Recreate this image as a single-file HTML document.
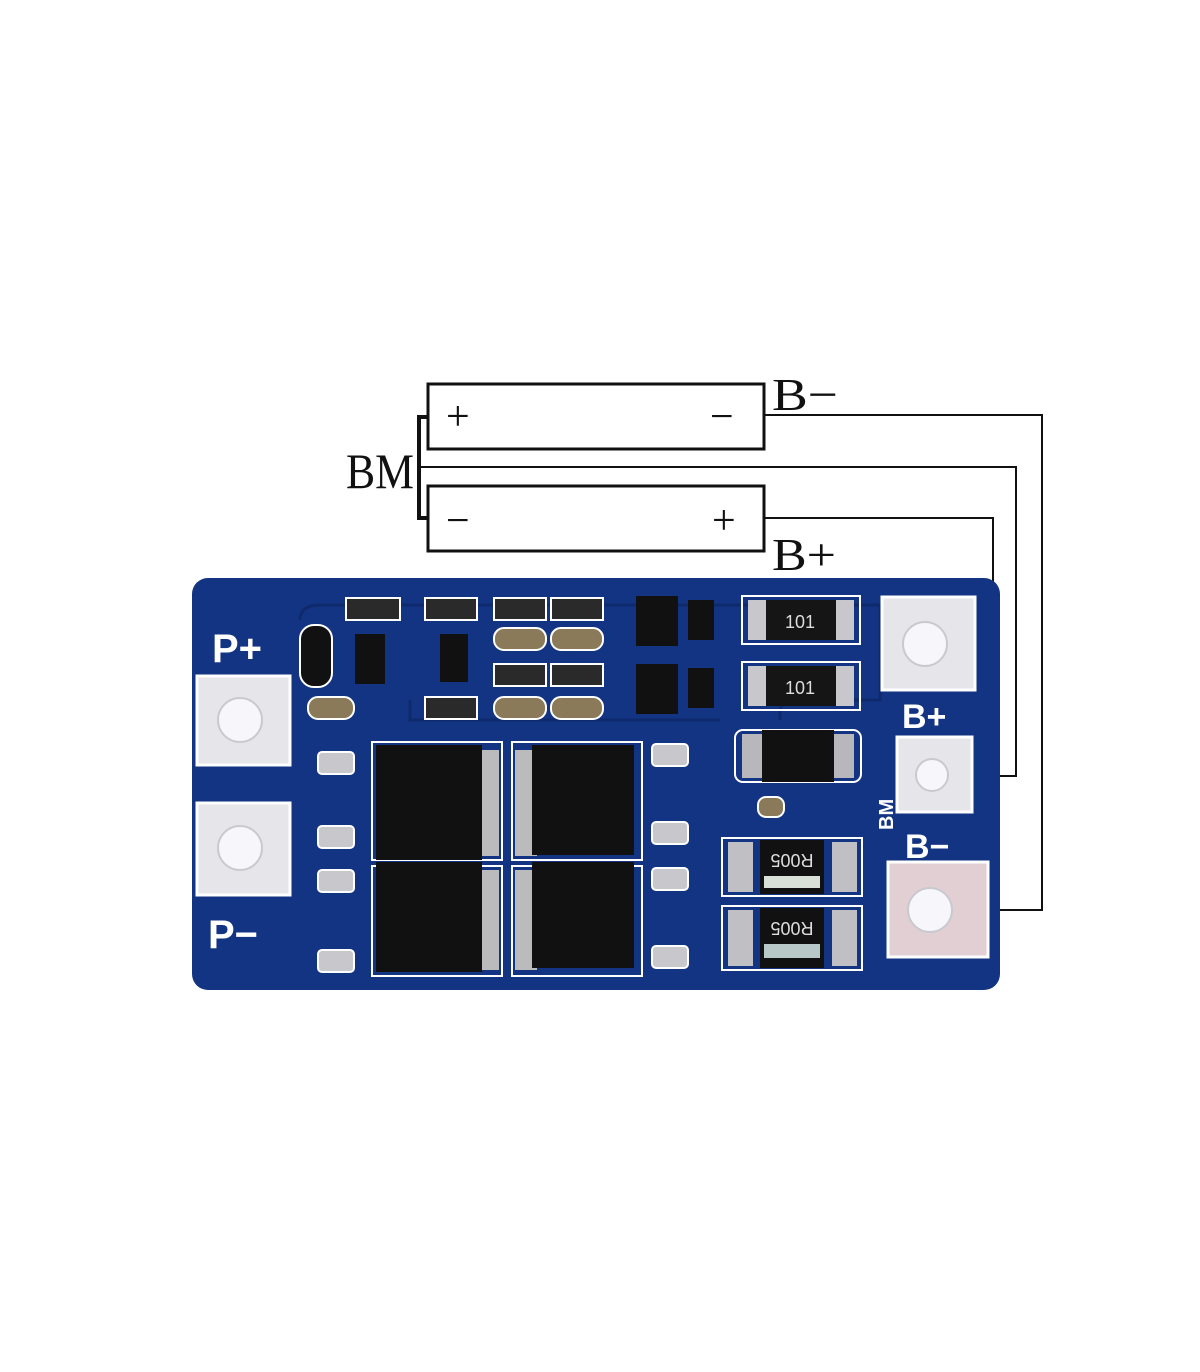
<!DOCTYPE html>
<html><head><meta charset="utf-8"><style>
html,body{margin:0;padding:0;background:#fff}
svg{display:block}
</style></head><body>
<svg width="1200" height="1372" viewBox="0 0 1200 1372" xmlns="http://www.w3.org/2000/svg" font-family="Liberation Serif, serif">
<rect width="1200" height="1372" fill="#fff"/>
<!-- batteries -->
<rect x="428" y="384" width="336" height="65" fill="#fff" stroke="#111" stroke-width="3"/>
<rect x="428" y="486" width="336" height="65" fill="#fff" stroke="#111" stroke-width="3"/>
<text x="446" y="430" font-size="42" fill="#111">+</text>
<text x="710" y="430" font-size="42" fill="#111">−</text>
<text x="446" y="534" font-size="42" fill="#111">−</text>
<text x="712" y="534" font-size="42" fill="#111">+</text>
<!-- BM bracket -->
<path d="M428 417 H419 V518 H428" fill="none" stroke="#111" stroke-width="4"/>
<path d="M420 467 H1016 V776 H975" fill="none" stroke="#111" stroke-width="2"/>
<path d="M765 415 H1042 V910 H985" fill="none" stroke="#111" stroke-width="2"/>
<path d="M765 518 H993 V640 H960" fill="none" stroke="#111" stroke-width="2"/>
<text x="346" y="488" font-size="50" fill="#111" textLength="68" lengthAdjust="spacingAndGlyphs">BM</text>
<text x="772" y="410" font-size="46" fill="#111" textLength="66" lengthAdjust="spacingAndGlyphs">B−</text>
<text x="772" y="570" font-size="46" fill="#111" textLength="64" lengthAdjust="spacingAndGlyphs">B+</text>
<!-- board -->
<rect x="192" y="578" width="808" height="412" rx="16" fill="#133483"/>
<path d="M300 620 Q300 605 320 605 H880 V700 H790 Q780 700 780 715 L780 720 M410 700 V720 H720" fill="none" stroke="#0f2a6c" stroke-width="3"/>
<g fill="#fff" font-family="Liberation Sans, sans-serif" font-weight="bold" font-size="40">
<text x="212" y="662">P+</text>
<text x="208" y="948">P−</text>
<text x="902" y="728" font-size="34">B+</text>
<text x="905" y="858" font-size="34">B−</text>
<text x="893" y="830" font-size="20" transform="rotate(-90 893 830)">BM</text>
</g>
<rect x="197" y="676" width="93" height="89" fill="#e6e6ea" stroke="#fff" stroke-width="3"/>
<circle cx="240" cy="720" r="22" fill="#f7f7fb" stroke="#c9c9d0" stroke-width="2"/>
<rect x="197" y="803" width="93" height="92" fill="#e6e6ea" stroke="#fff" stroke-width="3"/>
<circle cx="240" cy="848" r="22" fill="#f7f7fb" stroke="#c9c9d0" stroke-width="2"/>
<rect x="882" y="597" width="93" height="93" fill="#e6e6ea" stroke="#fff" stroke-width="3"/>
<circle cx="925" cy="644" r="22" fill="#f7f7fb" stroke="#c9c9d0" stroke-width="2"/>
<rect x="897" y="737" width="75" height="75" fill="#e6e6ea" stroke="#fff" stroke-width="3"/>
<circle cx="932" cy="775" r="16" fill="#f7f7fb" stroke="#c9c9d0" stroke-width="2"/>
<rect x="888" y="862" width="100" height="95" fill="#e2cfd3" stroke="#fff" stroke-width="3"/>
<circle cx="930" cy="910" r="22" fill="#f7f7fb" stroke="#c9c9d0" stroke-width="2"/>
<g>
<rect x="742" y="596" width="118" height="48" fill="none" stroke="#fff" stroke-width="2"/>
<rect x="748" y="600" width="106" height="40" fill="#c8c8cc"/>
<rect x="766" y="600" width="70" height="40" fill="#151515"/>
<text x="800" y="628" font-size="18" fill="#ddd" text-anchor="middle" font-family="Liberation Sans,sans-serif">101</text>
<rect x="742" y="662" width="118" height="48" fill="none" stroke="#fff" stroke-width="2"/>
<rect x="748" y="666" width="106" height="40" fill="#c8c8cc"/>
<rect x="766" y="666" width="70" height="40" fill="#151515"/>
<text x="800" y="694" font-size="18" fill="#ddd" text-anchor="middle" font-family="Liberation Sans,sans-serif">101</text>
</g>
<rect x="735" y="730" width="126" height="52" rx="8" fill="none" stroke="#fff" stroke-width="2"/>
<rect x="742" y="734" width="112" height="44" fill="#b8b8bc"/>
<rect x="762" y="730" width="72" height="52" fill="#111"/>
<g>
<rect x="722" y="838" width="140" height="58" fill="none" stroke="#fff" stroke-width="2"/>
<rect x="728" y="842" width="25" height="50" fill="#c0c0c4"/><rect x="832" y="842" width="25" height="50" fill="#c0c0c4"/>
<rect x="760" y="840" width="64" height="54" fill="#111"/>
<rect x="764" y="876" width="56" height="12" fill="#d8e0d8"/>
<text x="792" y="866" font-size="18" fill="#ddd" text-anchor="middle" transform="rotate(180 792 860)" font-family="Liberation Sans,sans-serif">R005</text>
<rect x="722" y="906" width="140" height="64" fill="none" stroke="#fff" stroke-width="2"/>
<rect x="728" y="910" width="25" height="56" fill="#c0c0c4"/><rect x="832" y="910" width="25" height="56" fill="#c0c0c4"/>
<rect x="760" y="908" width="64" height="60" fill="#111"/>
<rect x="764" y="944" width="56" height="14" fill="#b8c8c8"/>
<text x="792" y="934" font-size="18" fill="#ddd" text-anchor="middle" transform="rotate(180 792 928)" font-family="Liberation Sans,sans-serif">R005</text>
</g>
<g fill="#2a2a2a" stroke="#fff" stroke-width="2">
<rect x="346" y="598" width="54" height="22"/><rect x="425" y="598" width="52" height="22"/>
<rect x="494" y="598" width="52" height="22"/><rect x="551" y="598" width="52" height="22"/>
<rect x="494" y="664" width="52" height="22"/><rect x="551" y="664" width="52" height="22"/>
<rect x="425" y="697" width="52" height="22"/>
<rect x="494" y="628" width="52" height="22" rx="10" fill="#8a7a5a"/><rect x="551" y="628" width="52" height="22" rx="10" fill="#8a7a5a"/>
<rect x="494" y="697" width="52" height="22" rx="10" fill="#8a7a5a"/><rect x="551" y="697" width="52" height="22" rx="10" fill="#8a7a5a"/>
<rect x="308" y="697" width="46" height="22" rx="10" fill="#8a7a5a"/>
<rect x="758" y="797" width="26" height="20" rx="8" fill="#8a7a5a"/>
<rect x="300" y="625" width="32" height="62" rx="14" fill="#111"/>
</g>
<g fill="#111">
<rect x="355" y="634" width="30" height="50"/><rect x="440" y="634" width="28" height="48"/>
<rect x="636" y="596" width="42" height="50"/><rect x="636" y="664" width="42" height="50"/>
<rect x="688" y="600" width="26" height="40"/><rect x="688" y="668" width="26" height="40"/>
</g>
<g>
<rect x="372" y="742" width="130" height="118" fill="none" stroke="#fff" stroke-width="2"/>
<rect x="477" y="750" width="22" height="106" fill="#bbb"/>
<rect x="376" y="745" width="106" height="115" fill="#111"/>
<rect x="512" y="742" width="130" height="118" fill="none" stroke="#fff" stroke-width="2"/>
<rect x="515" y="750" width="22" height="106" fill="#bbb"/>
<rect x="532" y="745" width="102" height="110" fill="#111"/>
<rect x="372" y="866" width="130" height="110" fill="none" stroke="#fff" stroke-width="2"/>
<rect x="477" y="870" width="22" height="100" fill="#bbb"/>
<rect x="376" y="862" width="106" height="110" fill="#111"/>
<rect x="512" y="866" width="130" height="110" fill="none" stroke="#fff" stroke-width="2"/>
<rect x="515" y="870" width="22" height="100" fill="#bbb"/>
<rect x="532" y="862" width="102" height="106" fill="#111"/>
</g>
<g fill="#c8c8cc" stroke="#fff" stroke-width="2">
<rect x="318" y="752" width="36" height="22" rx="4"/><rect x="318" y="826" width="36" height="22" rx="4"/>
<rect x="318" y="870" width="36" height="22" rx="4"/><rect x="318" y="950" width="36" height="22" rx="4"/>
<rect x="652" y="744" width="36" height="22" rx="4"/><rect x="652" y="822" width="36" height="22" rx="4"/>
<rect x="652" y="868" width="36" height="22" rx="4"/><rect x="652" y="946" width="36" height="22" rx="4"/>
</g>
</svg>
</body></html>
